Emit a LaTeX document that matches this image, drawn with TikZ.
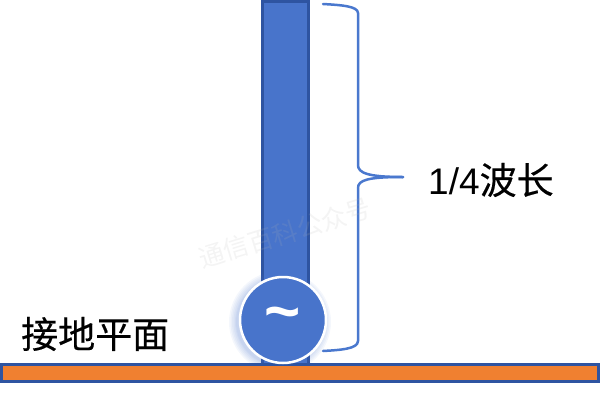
\documentclass[tikz,border=0pt]{standalone}
\usepackage{fontspec}
\setmainfont{Liberation Sans}
\newfontfamily\cjk[FakeBold=0.35]{Noto Sans CJK SC}
\newfontfamily\cjkwm{Noto Sans CJK SC}
\definecolor{fillblue}{HTML}{4874CB}
\definecolor{edgeblue}{HTML}{2E54A1}
\definecolor{bandfill}{HTML}{F08030}
\definecolor{bracecol}{HTML}{4A78CE}
\tikzset{
  pxedge/.style={draw=edgeblue,line width=3pt},
  antennabar/.style={pxedge,fill=fillblue},
  groundbar/.style={pxedge,fill=bandfill},
  sourcedisc/.style={circle,fill=fillblue,draw=white,line width=2.5pt,minimum size=86pt,inner sep=0pt},
  bracepath/.style={draw=bracecol,line width=2.5pt,line cap=round,line join=round},
  biglabel/.style={font=\fontsize{37}{37}\selectfont,text=black,inner sep=0pt},
  watermark/.style={font=\cjkwm\fontsize{25.5}{25.5}\selectfont,text=gray!60,opacity=0.15,rotate=17,inner sep=0pt},
}
\begin{document}
\begin{tikzpicture}[x=1pt,y=-1pt]
\useasboundingbox (0,0) rectangle (600,402);
\draw[antennabar] (262.5,1.5) rectangle (308.5,364);
% soft shadow of the source disc, offset to the lower left
\foreach \r in {51,49.5,48,46.5,45,44}{
  \fill[fillblue,opacity=0.06] (280,322) circle[radius=\r];
}
\draw[groundbar] (1.5,364.5) rectangle (598,381);
\node[sourcedisc] (src) at (283,320) {};
\node[font=\bfseries\fontsize{62}{62}\selectfont,text=white,inner sep=0pt] (tilde) at (283,320) {\~{}};
\coordinate (bt) at (323,4);
\coordinate (bb) at (323,351);
\coordinate (tip) at (403,177);
\draw[bracepath] (bt) .. controls (340,5) and (358,6) .. (358,13) -- (358,165)
  .. controls (358,173) and (368,177) .. (tip);
\draw[bracepath] (tip) .. controls (368,177) and (358,180) .. (358,188) -- (358,341)
  .. controls (358,349) and (340,350) .. (bb);
\node[biglabel,anchor=west] (len) at (428,180) {1/4{\cjk 波长}};
\node[biglabel,anchor=west] (gnd) at (21,334) {\cjk 接地平面};
\node[watermark] (wm) at (285,233) {通信百科公众号};
\end{tikzpicture}
\end{document}
